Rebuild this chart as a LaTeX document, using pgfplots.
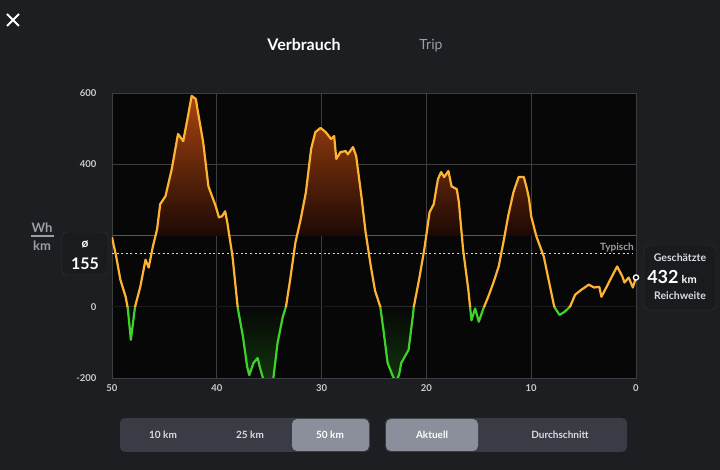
\documentclass[border=0pt]{standalone}
\usepackage{pgfplots}
\pgfplotsset{compat=1.18}
\usepackage{pgfplotstable}
\usepackage{fontspec}
\setmainfont{Lato}
\definecolor{bg}{HTML}{1D1E21}
\definecolor{plotbg}{HTML}{070707}
\definecolor{gridc}{HTML}{3C3D40}
\definecolor{gridhi}{HTML}{56585C}
\definecolor{ticktext}{HTML}{C9CBCF}
\definecolor{curveor}{HTML}{FFB431}
\definecolor{curvegr}{HTML}{3FD22C}
\definecolor{peakfill}{HTML}{A8440F}
\definecolor{peaklow}{HTML}{1C0904}
\definecolor{greenfill}{HTML}{10330B}
\definecolor{boxbg}{HTML}{1A1B1E}
\definecolor{boxline}{HTML}{34363A}
\definecolor{btnbg}{HTML}{393C45}
\definecolor{btnhi}{HTML}{8B8E9B}
\definecolor{btntext}{HTML}{D9DBE0}
\definecolor{labgray}{HTML}{9A9EA6}

% path bbox in data units runs from y=-235 to y=592 and maps to 25bp..75bp
\pgfdeclareverticalshading{peakshade}{100bp}{color(0bp)=(peaklow); color(51.3bp)=(peaklow); color(75bp)=(peakfill); color(100bp)=(peakfill)}
\pgfdeclareverticalshading{greenshade}{100bp}{color(0bp)=(greenfill); color(27.1bp)=(greenfill); color(39.2bp)=(plotbg); color(100bp)=(plotbg)}

\pgfplotstableread{
x y
50 195
49.6 141
49.2 76
48.7 28
48.5 -3
48.2 -93
47.8 0
47.3 56
46.8 132
46.5 110
46.1 169
45.7 217
45.4 288
44.9 310
44.3 386
43.7 485
43.2 465
42.8 527
42.4 592
42.0 583
41.8 547
41.3 462
40.8 338
40.1 282
39.8 251
39.5 254
39.2 268
39.0 237
38.5 141
38.0 -3
37.5 -85
37.1 -169
36.9 -192
36.5 -158
36.1 -144
35.9 -169
35.6 -200
35.3 -235
34.8 -235
34.6 -200
34.2 -101
33.7 -28
33.4 0
33.0 76
32.5 180
32.0 245
31.5 321
31.0 443
30.6 490
30.1 502
29.6 490
29.1 471
28.8 479
28.6 415
28.2 434
27.7 437
27.5 428
27.0 448
26.7 423
26.2 310
25.8 209
25.3 113
24.9 45
24.4 0
24.1 -65
23.7 -158
23.2 -195
22.9 -212
22.6 -190
22.4 -158
21.7 -121
21.3 -28
21.2 0
20.7 76
20.2 161
19.7 265
19.3 288
18.9 358
18.6 378
18.3 364
17.9 381
17.6 338
17.1 330
16.9 293
16.5 161
16.0 48
15.7 -38
15.35 -5
15.0 -42
14.6 -8
14.1 28
13.6 68
13.1 113
12.6 189
12.2 254
11.7 321
11.2 364
10.7 364
10.4 330
10.2 302
10.0 254
9.5 197
8.8 141
8.2 56
7.8 0
7.3 -23
6.8 -14
6.3 0
5.8 34
5.2 48
4.5 62
4.0 54
3.5 56
3.3 28
2.8 56
2.3 85
1.8 113
1.3 85
1.1 68
0.7 82
0.3 54
0 82
}\curve

\pgfplotsset{overlay/.style={
  scale only axis, width=524pt, xmin=0, xmax=50, x dir=reverse,
  hide axis, clip=true}}

\pagecolor{bg}
\begin{document}
\begin{tikzpicture}[x=1pt,y=1pt]
\path (0,0) rectangle (720,470);
% close X
\draw[white, line width=2pt] (7,456) -- (19,444) (7,444) -- (19,456);
% title
\node[white, font=\bfseries\fontsize{16}{19}\selectfont] at (304,425) {Verbrauch};
\node[labgray, font=\fontsize{14}{17}\selectfont] at (431,424) {Trip};
% Wh/km
\node[labgray, font=\bfseries\fontsize{13}{15}\selectfont] at (42,242) {Wh};
\draw[labgray, line width=1.2pt] (31,234) -- (54,234);
\node[labgray, font=\bfseries\fontsize{13}{15}\selectfont] at (42,224) {km};
% average box
\filldraw[fill=boxbg, draw=boxline, rounded corners=5pt] (62,195) rectangle (108,238);
\node[white, font=\bfseries\fontsize{12}{14}\selectfont] at (85,226) {ø};
\node[white, font=\bfseries\fontsize{16}{19}\selectfont] at (85,206) {155};
% range box
\filldraw[fill=boxbg, draw=boxline, rounded corners=5pt] (644,160) rectangle (716,225);
\node[btntext, font=\bfseries\fontsize{10.5}{12}\selectfont] at (680,212) {Geschätzte};
\node[white, font=\bfseries\fontsize{18}{21}\selectfont] at (672,193) {432\,\fontsize{11}{13}\selectfont km};
\node[btntext, font=\bfseries\fontsize{10.5}{12}\selectfont] at (680,174) {Reichweite};
% buttons
\fill[btnbg, rounded corners=5pt] (120,18) rectangle (370,52);
\fill[btnhi, rounded corners=5pt] (292,19) rectangle (369,51);
\node[btntext, font=\bfseries\fontsize{10}{12}\selectfont] at (163,35) {10 km};
\node[btntext, font=\bfseries\fontsize{10}{12}\selectfont] at (250,35) {25 km};
\node[white, font=\bfseries\fontsize{10}{12}\selectfont] at (330,35) {50 km};
\fill[btnbg, rounded corners=5pt] (385,18) rectangle (627,52);
\fill[btnhi, rounded corners=5pt] (386,19) rectangle (478,51);
\node[white, font=\bfseries\fontsize{10}{12}\selectfont] at (432,35) {Aktuell};
\node[btntext, font=\bfseries\fontsize{10}{12}\selectfont] at (560,35) {Durchschnitt};

% plot area background
\begin{axis}[
  at={(112pt,92pt)}, anchor=south west,
  scale only axis, width=524pt, height=285pt,
  xmin=0, xmax=50, ymin=-200, ymax=600,
  x dir=reverse,
  xtick={0,10,20,30,40,50},
  xticklabels={0,10,20,30,40,50},
  ytick={-200,0,200,400,600},
  yticklabels={-200,0,,400,600},
  major tick length=0pt,
  grid=major,
  grid style={gridc, line width=0.8pt},
  axis line style={gridc, line width=0.8pt},
  axis background/.style={fill=plotbg},
  tick label style={ticktext, font=\bfseries\fontsize{9.5}{11}\selectfont},
  /pgf/number format/assume math mode=true,
  yticklabel style={xshift=-12pt},
  xticklabel style={yshift=-3pt},
]
\addplot[gridhi, line width=1pt, forget plot] coordinates {(0,200) (50,200)};
\end{axis}
% peak fill (above 200)
\begin{axis}[overlay, at={(112pt,234.5pt)}, anchor=south west, height=142.5pt, ymin=200, ymax=600]
\addplot[draw=none, shade, shading=peakshade] table {\curve} -- (axis cs:0,0) -- (axis cs:50,0) -- cycle;
\end{axis}
% green fill (below 0)
\begin{axis}[overlay, at={(112pt,92pt)}, anchor=south west, height=71.25pt, ymin=-200, ymax=0]
\addplot[draw=none, shade, shading=greenshade] table {\curve} -- (axis cs:0,0) -- (axis cs:50,0) -- cycle;
\end{axis}
% typical line
\begin{axis}[overlay, at={(112pt,92pt)}, anchor=south west, height=285pt, ymin=-200, ymax=600]
\addplot[white!85!black, line width=1.6pt, dash pattern=on 2pt off 2.6pt] coordinates {(50,150) (0.3,150)};
\node[labgray, anchor=south east, font=\bfseries\fontsize{10}{12}\selectfont, inner sep=1pt] at (axis cs:0.1,151) {Typisch};
\end{axis}
% green part (below zero)
\begin{axis}[overlay, at={(112pt,92pt)}, anchor=south west, height=71.25pt, ymin=-200, ymax=0]
\addplot[curvegr, line width=2.2pt, line join=round] table {\curve};
\end{axis}
% orange part (above zero)
\begin{axis}[overlay, at={(112pt,163.25pt)}, anchor=south west, height=213.75pt, ymin=0, ymax=600]
\addplot[curveor, line width=2.2pt, line join=round] table {\curve};
\addplot[only marks, mark=*, mark size=2.6pt, mark options={fill=plotbg, draw=white, line width=1.3pt}] coordinates {(0,82)};
\end{axis}
\end{tikzpicture}
\end{document}
